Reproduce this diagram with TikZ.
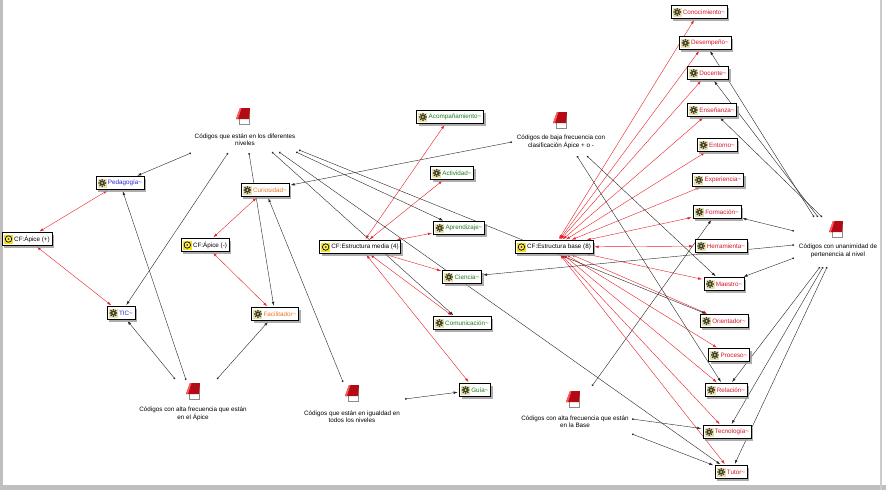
\documentclass[tikz,border=0pt]{standalone}
\usepackage{fontspec}
\setmainfont{Liberation Sans}
\usetikzlibrary{arrows.meta,shadows}
\pgfdeclarelayer{back}
\pgfdeclarelayer{bg}
\pgfsetlayers{back,bg,main}
\newcommand{\ctil}{\textasciitilde}
\definecolor{cblue}{RGB}{40,40,215}
\definecolor{corange}{RGB}{235,120,35}
\definecolor{cgreen}{RGB}{30,125,30}
\definecolor{cred}{RGB}{215,20,40}
\definecolor{linkred}{RGB}{235,30,40}
\definecolor{iconbg}{RGB}{232,226,170}
\definecolor{icongear}{RGB}{60,60,40}
\definecolor{famyellow}{RGB}{245,222,40}
\definecolor{memored}{RGB}{180,10,20}
\tikzset{
  lbl/.style={font=\fontsize{6.3}{7.4}\selectfont},
  box/.style={lbl, draw=black, line width=0.45pt, fill=white, inner xsep=2pt,
    inner ysep=0pt, minimum height=13pt,
    drop shadow={shadow xshift=2.2pt, shadow yshift=-2.2pt, fill=black!40, opacity=0.8},
    execute at begin node={\hspace*{10pt}}},
  code/.style={box},
  fam/.style={box, text=black},
  memotext/.style={lbl, align=center, inner sep=0pt, text=black},
  codeic/.pic={
    \fill[iconbg] (-4.5,-4.5) rectangle (4.5,4.5);
    \foreach \a in {0,45,...,315} \fill[icongear] (\a:3.2) circle (0.9);
    \fill[icongear] (0,0) circle (2.6);
    \fill[iconbg] (0,0) circle (1.0);
  },
  famic/.pic={
    \fill[famyellow] (-4.5,-4.5) rectangle (4.5,4.5);
    \draw[black,line width=0.7pt,fill=yellow!70] (0,0) circle (3.2);
    \fill[black!70] (0,0) circle (1.1);
  },
  memoicon/.pic={
    \fill[white] (-6,-7) rectangle (6,8);
    \draw[black!45,line width=0.4pt] (-4,-2) -- (-4,8) -- (6,8) -- (6,-5);
    \fill[memored] (-7,3) -- (-3,-8) -- (7,-8) -- (6,3) -- cycle;
    \fill[red!65!white] (-7,3) -- (-3,-8) -- (-1.5,-8) -- (-5,3) -- cycle;
  },
  blk/.style={black!85, line width=0.4pt, {Circle[length=1.8pt]}-{Latex[length=4pt,width=2.6pt]}, shorten >=1.5pt},
  rd/.style={linkred, line width=0.4pt, {Latex[length=4pt,width=2.6pt]}-{Latex[length=4pt,width=2.6pt]}, shorten >=1.5pt, shorten <=1.5pt}
}
\begin{document}
\begin{tikzpicture}[x=1pt,y=-1pt]
\useasboundingbox (0,0) rectangle (886,490);
\begin{pgfonlayer}{back}
\fill[white] (0,0) rectangle (886,490);
\fill[black!25] (0,0) rectangle (3,490);
\fill[black!25] (0,485) rectangle (886,490);
\fill[black!20] (880,0) rectangle (882,490);
\end{pgfonlayer}

% ---------- left group
\node[fam] (apicep) at (27,239) {CF:Ápice (+)};
\node[code, text=cblue] (pedagogia) at (120,183) {Pedagogía\ctil};
\node[code, text=cblue] (tic) at (121,313) {TIC\ctil};
\node[fam] (apicem) at (205,245) {CF:Ápice (-)};
\node[code, text=corange] (curiosidad) at (265,190) {Curiosidad\ctil};
\node[code, text=corange] (facilitador) at (275,314) {Facilitador\ctil};

% ---------- middle group
\node[code, text=cgreen] (acomp) at (450,117) {Acompañamiento\ctil};
\node[code, text=cgreen] (actividad) at (452,173) {Actividad\ctil};
\node[code, text=cgreen] (aprendizaje) at (459,228) {Aprendizaje\ctil};
\node[fam] (emedia) at (360,247) {CF:Estructura media (4)};
\node[code, text=cgreen] (ciencia) at (462,277) {Ciencia\ctil};
\node[code, text=cgreen] (comunicacion) at (462,323) {Comunicación\ctil};
\node[code, text=cgreen] (guia) at (475,390) {Guía\ctil};
\node[fam] (ebase) at (554,247) {CF:Estructura base (8)};

% ---------- right group
\node[code, text=cred] (conocimiento) at (699,12) {Conocimiento\ctil};
\node[code, text=cred] (desempeno) at (705,43) {Desempeño\ctil};
\node[code, text=cred] (docente) at (708,73) {Docente\ctil};
\node[code, text=cred] (ensenanza) at (712,110) {Enseñanza\ctil};
\node[code, text=cred] (entorno) at (717,145) {Entorno\ctil};
\node[code, text=cred] (experiencia) at (718,180) {Experiencia\ctil};
\node[code, text=cred] (formacion) at (717,212) {Formación\ctil};
\node[code, text=cred] (herramienta) at (721,246) {Herramienta\ctil};
\node[code, text=cred] (maestro) at (724,284) {Maestro\ctil};
\node[code, text=cred] (orientador) at (724,321) {Orientador\ctil};
\node[code, text=cred] (proceso) at (729,355) {Proceso\ctil};
\node[code, text=cred] (relacion) at (726,390) {Relación\ctil};
\node[code, text=cred] (tecnologia) at (727,432) {Tecnología\ctil};
\node[code, text=cred] (tutor) at (731,472) {Tutor\ctil};

% icons inside boxes
\foreach \n in {pedagogia,tic,curiosidad,facilitador,acomp,actividad,aprendizaje,ciencia,comunicacion,guia,conocimiento,desempeno,docente,ensenanza,entorno,experiencia,formacion,herramienta,maestro,orientador,proceso,relacion,tecnologia,tutor}
  \pic at ([xshift=6.5pt]\n.west) {codeic};
\foreach \n in {apicep,apicem,emedia,ebase}
  \pic at ([xshift=6.5pt]\n.west) {famic};

% ---------- memos
\pic (m1i) at (243,116) {memoicon};
\node[memotext] (m1) at (245,140) {Códigos que están en los diferentes\\niveles};
\pic (m2i) at (193,391) {memoicon};
\node[memotext] (m2) at (193,414) {Códigos con alta frecuencia que están\\en el Ápice};
\pic (m3i) at (352,393) {memoicon};
\node[memotext] (m3) at (352,417) {Códigos que están en igualdad en\\todos los niveles};
\pic (m4i) at (560,120) {memoicon};
\node[memotext] (m4) at (561,142) {Códigos de baja frecuencia con\\clasificación Ápice + o -};
\pic (m5i) at (836,229) {memoicon};
\node[memotext] (m5) at (838,251) {Códigos con unanimidad de\\pertenencia al nivel};
\pic (m6i) at (573,399) {memoicon};
\node[memotext] (m6) at (575,422) {Códigos con alta frecuencia que están\\en la Base};

% link start points
\coordinate (n1a) at (191,153); \coordinate (n1b) at (228,153);
\coordinate (n1c) at (249,153); \coordinate (n1d) at (272,152);
\coordinate (n1e) at (279,152); \coordinate (n1f) at (296,152);
\coordinate (n1g) at (299,150);
\coordinate (n2a) at (175,379); \coordinate (n2b) at (186,380);
\coordinate (n2c) at (217,379);
\coordinate (n3a) at (343,382); \coordinate (n3b) at (405,399);
\coordinate (n4a) at (512,142); \coordinate (n4b) at (577,156);
\coordinate (n4c) at (587,156);
\coordinate (n5a) at (814,217); \coordinate (n5b) at (818,217);
\coordinate (n5c) at (822,217); \coordinate (n5d) at (794,231);
\coordinate (n5e) at (794,245); \coordinate (n5f) at (794,258);
\coordinate (n5g) at (820,267); \coordinate (n5h) at (823,267);
\coordinate (n5i) at (827,267);
\coordinate (n6a) at (592,386); \coordinate (n6b) at (632,419);
\coordinate (n6c) at (632,434);

\begin{pgfonlayer}{bg}
% red family links
\foreach \t in {pedagogia,tic} \draw[rd] (apicep) -- (\t);
\foreach \t in {curiosidad,facilitador} \draw[rd] (apicem) -- (\t);
\foreach \t in {acomp,actividad,aprendizaje,ciencia,comunicacion,guia} \draw[rd] (emedia) -- (\t);
\foreach \t in {conocimiento,desempeno,docente,ensenanza,entorno,experiencia,formacion,herramienta,maestro,orientador,proceso,relacion,tecnologia,tutor} \draw[rd] (ebase) -- (\t);
% memo links
\draw[blk] (n1a) -- (pedagogia);
\draw[blk] (n1b) -- (tic);
\draw[blk] (n1c) -- (facilitador);
\draw[blk] (n1d) -- (comunicacion);
\draw[blk] (n1e) -- (tutor);
\draw[blk] (n1f) -- (aprendizaje);
\draw[blk] (n1g) -- (orientador);
\draw[blk] (n2a) -- (tic);
\draw[blk] (n2b) -- (pedagogia);
\draw[blk] (n2c) -- (facilitador);
\draw[blk] (n3a) -- (curiosidad);
\draw[blk] (n3b) -- (guia);
\draw[blk] (n4a) -- (curiosidad);
\draw[blk] (n4b) -- (relacion);
\draw[blk] (n4c) -- (maestro);
\draw[blk] (n5a) -- (desempeno);
\draw[blk] (n5b) -- (docente);
\draw[blk] (n5c) -- (ensenanza);
\draw[blk] (n5d) -- (formacion);
\draw[blk] (n5e) -- (ciencia);
\draw[blk] (n5f) -- (maestro);
\draw[blk] (n5g) -- (relacion);
\draw[blk] (n5h) -- (tecnologia);
\draw[blk] (n5i) -- (tutor);
\draw[blk] (n6a) -- (formacion);
\draw[blk] (n6b) -- (tecnologia);
\draw[blk] (n6c) -- (tutor);
\end{pgfonlayer}
\end{tikzpicture}
\end{document}
